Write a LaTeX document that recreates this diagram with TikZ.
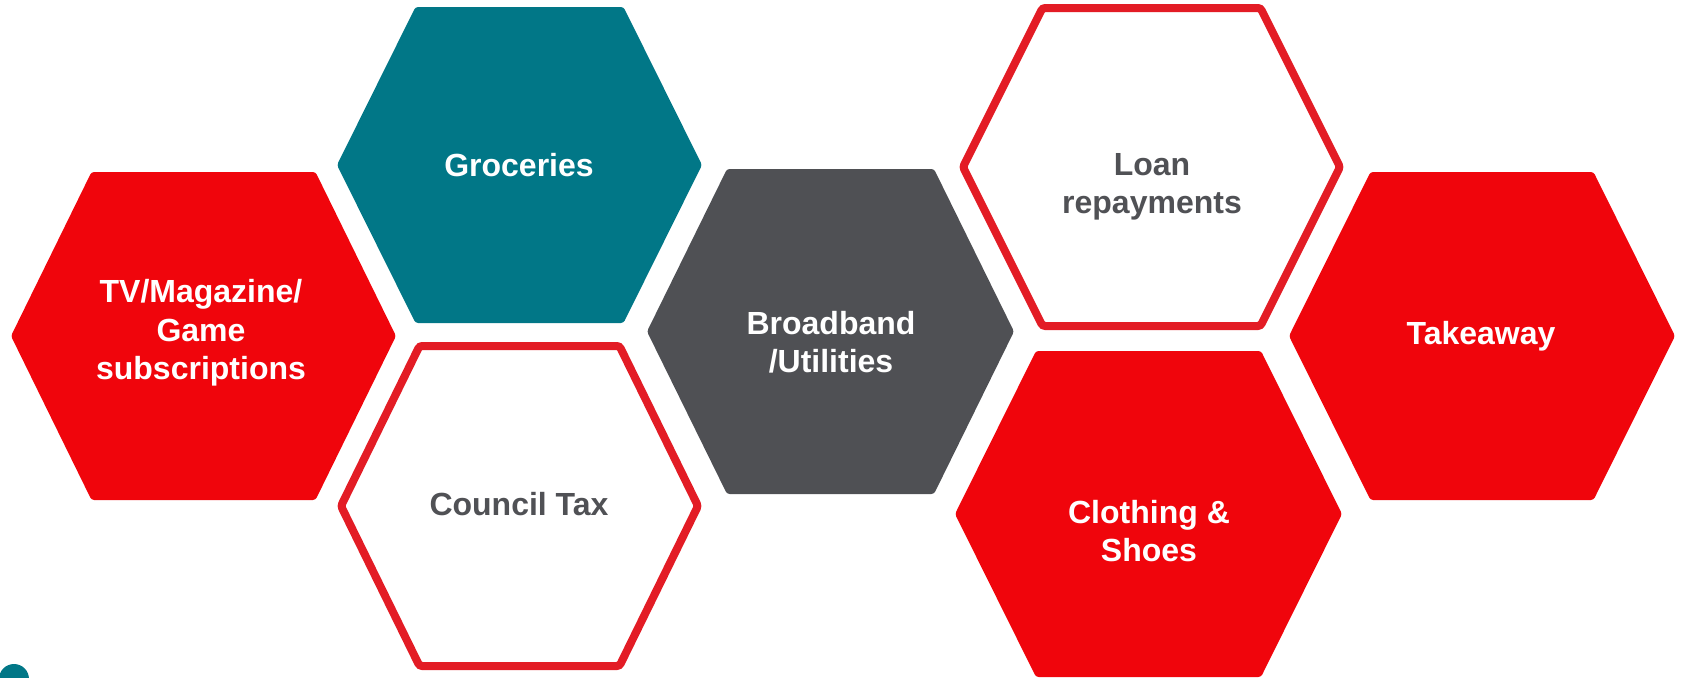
\documentclass[tikz,border=0pt]{standalone}
\usepackage{fontspec}
\setmainfont{Liberation Sans}
\usepackage{tikz}

\definecolor{hexred}{RGB}{240,5,12}
\definecolor{hexline}{RGB}{227,28,37}
\definecolor{hexteal}{RGB}{1,119,135}
\definecolor{hexgrey}{RGB}{79,80,84}
\definecolor{labelgrey}{RGB}{80,81,85}

\begin{document}
\begin{tikzpicture}[
  x=0.75pt, y=-0.75pt,
  % half width, half top edge, half height
  hexa/.style n args={3}{insert path={+(-#1,0) -- +(-#2,-#3) -- +(#2,-#3) -- +(#1,0) -- +(#2,#3) -- +(-#2,#3) -- cycle}},
  solid hex/.style={fill=#1,rounded corners=2pt},
  open hex/.style={draw=hexline,line width=6pt,fill=white,rounded corners=2pt},
  lbl/.style={align=center,text=white,font=\fontsize{24}{28.8}\selectfont\bfseries,inner sep=0pt},
  dark lbl/.style={lbl,text=labelgrey}
]
\useasboundingbox (0,0) rectangle (1682,678);

% hexagons
\path[solid hex=hexred]  (203.5,336) [hexa={192.5}{112}{164}];
\path[solid hex=hexteal] (519.5,165) [hexa={182.5}{104}{158}];
\path[open hex]          (519.5,506) [hexa={178.5}{100}{160}];
\path[solid hex=hexgrey] (830.5,331.5) [hexa={183.5}{103.5}{162.5}];
\path[open hex]          (1151.5,167) [hexa={188.5}{109}{159}];
\path[solid hex=hexred]  (1148.5,514) [hexa={193.5}{112.5}{163}];
\path[solid hex=hexred]  (1482,336) [hexa={193}{111.5}{164}];

% corner mark
\fill[hexteal] (14,679) circle (15);

% labels
\node[lbl] (tv) at (201,333) {TV/Magazine/\\Game\\subscriptions};
\node[lbl] (groc) at (519,165) {Groceries};
\node[dark lbl] (tax) at (519,504) {Council Tax};
\node[lbl] (bband) at (831,342) {Broadband\\/Utilities};
\node[dark lbl] (loan) at (1152,187) {Loan\\repayments};
\node[lbl] (cloth) at (1149,531) {Clothing \&\\Shoes};
\node[lbl] (take) at (1481,336) {Takeaway};
\end{tikzpicture}
\end{document}
